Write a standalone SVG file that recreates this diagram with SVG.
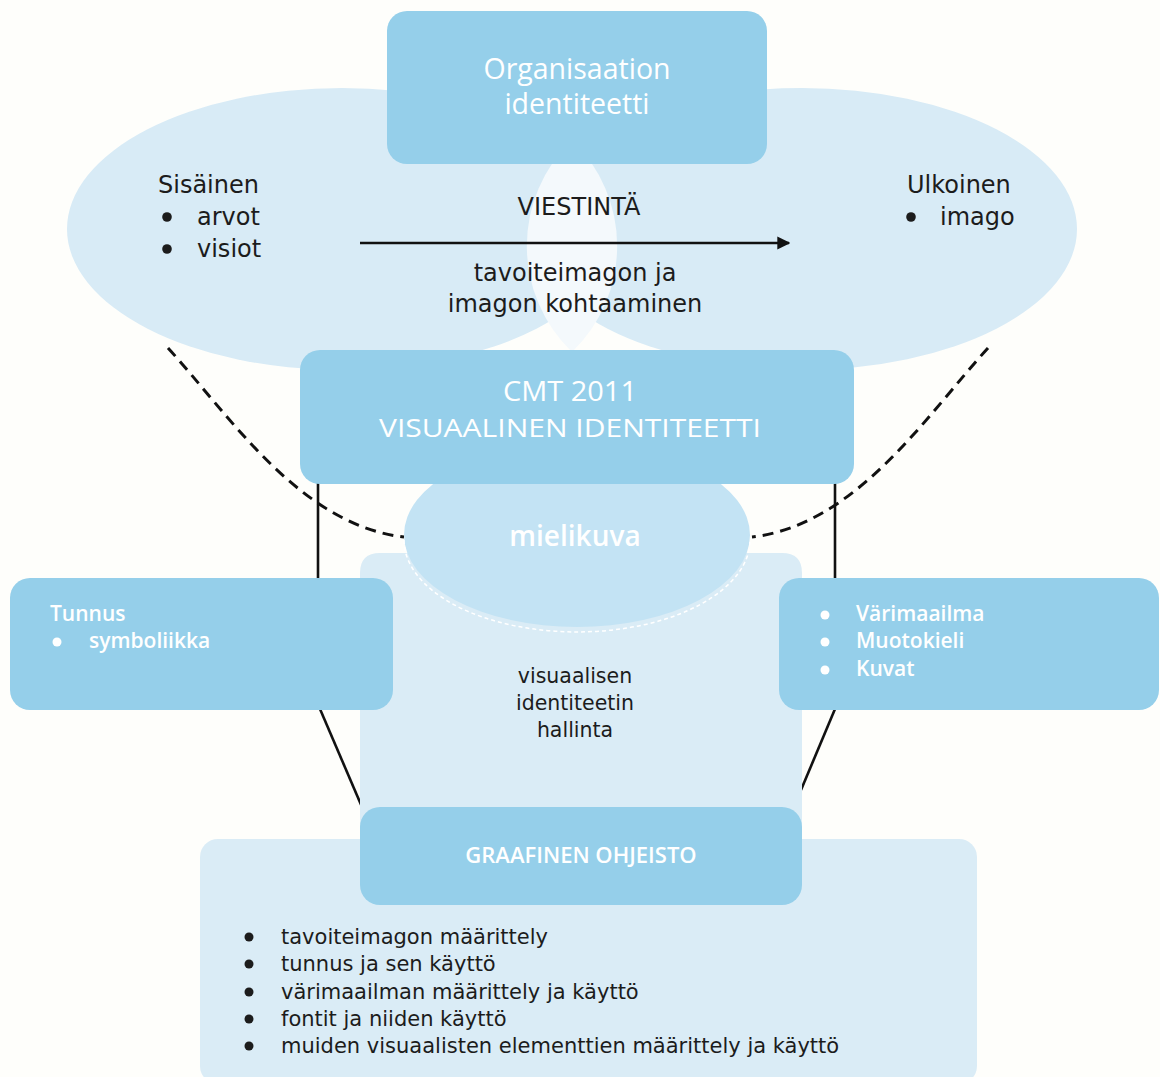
<svg xmlns="http://www.w3.org/2000/svg" width="1160" height="1077" viewBox="0 0 1160 1077">
<defs>
<style>
.box{fill:#95cfea;}
.ell{fill:#d8ebf6;}
.panel{fill:#daecf6;}
.wt{fill:#ffffff;font-family:"Open Sans","Noto Sans","DejaVu Sans",sans-serif;}
.bt{fill:#1c1c1c;font-family:"DejaVu Sans","Open Sans",sans-serif;}
.c{text-anchor:middle;}
.ln{stroke:#111;stroke-width:2.6;fill:none;}
.dash{stroke:#111;stroke-width:3;fill:none;stroke-dasharray:11 7;}
</style>
<marker id="ah" viewBox="0 0 10 10" refX="9" refY="5" markerWidth="5" markerHeight="6" markerUnits="strokeWidth" orient="auto">
<path d="M0,0 L10,5 L0,10 Z" fill="#111"/>
</marker>
</defs>
<rect x="0" y="0" width="1160" height="1077" fill="#fefefb"/>

<g id="ellipse-sisainen">
<ellipse class="ell" cx="342" cy="229" rx="275" ry="141"/>
<text class="bt" x="158" y="193" font-size="24">Sisäinen</text>
<circle cx="167" cy="217" r="4.8" fill="#1c1c1c"/>
<text class="bt" x="197" y="225" font-size="24">arvot</text>
<circle cx="167" cy="249" r="4.8" fill="#1c1c1c"/>
<text class="bt" x="197" y="257" font-size="24">visiot</text>
</g>
<g id="ellipse-ulkoinen">
<ellipse class="ell" cx="802" cy="229" rx="275" ry="141"/>
<text class="bt" x="907" y="193" font-size="24">Ulkoinen</text>
<circle cx="911" cy="217" r="4.8" fill="#1c1c1c"/>
<text class="bt" x="940" y="225" font-size="24">imago</text>
</g>
<g id="lens">
<path d="M572,140 A147,147 0 0 1 572,352 A147,147 0 0 1 572,140 Z" fill="#f4f9fc"/>
</g>

<g id="connectors">
<line class="ln" x1="360" y1="243" x2="789" y2="243" stroke-width="3" marker-end="url(#ah)"/>
<path class="dash" d="M168,348 C230,416 300,525 404,537"/>
<path class="dash" d="M988,348 C926,416 856,525 752,537"/>
<line class="ln" x1="318" y1="483" x2="318" y2="580"/>
<line class="ln" x1="835" y1="483" x2="835" y2="580"/>
<line class="ln" x1="320" y1="709" x2="362" y2="807"/>
<line class="ln" x1="835" y1="709" x2="801" y2="790"/>
</g>

<g id="viestinta">
<text class="bt c" x="579" y="215" font-size="24">VIESTINTÄ</text>
<text class="bt c" x="575" y="281" font-size="24">tavoiteimagon ja</text>
<text class="bt c" x="575" y="312" font-size="24">imagon kohtaaminen</text>
</g>

<g id="organisaation-identiteetti">
<rect class="box" x="387" y="11" width="380" height="153" rx="20"/>
<text class="wt c" x="577" y="79" font-size="28.5">Organisaation</text>
<text class="wt c" x="577" y="114" font-size="28.5">identiteetti</text>
</g>

<g id="hallinta">
<path class="panel" d="M360,573 Q360,553 380,553 L782,553 Q802,553 802,573 L802,830 L360,830 Z"/>
<text class="bt c" x="575" y="683" font-size="20.5">visuaalisen</text>
<text class="bt c" x="575" y="710" font-size="20.5">identiteetin</text>
<text class="bt c" x="575" y="737" font-size="20.5">hallinta</text>
</g>

<g id="mielikuva">
<ellipse cx="577" cy="535" rx="173" ry="92" fill="#c3e3f4"/>
<path d="M404,540 A173,92 0 0 0 750,540" fill="none" stroke="#ffffff" stroke-width="1.5" stroke-dasharray="4 3"/>
<text class="wt c" x="575" y="546" font-size="28" font-weight="600">mielikuva</text>
</g>

<g id="cmt">
<rect class="box" x="300" y="350" width="554" height="134" rx="20"/>
<text class="wt c" x="570" y="401" font-size="27" textLength="134" lengthAdjust="spacingAndGlyphs">CMT 2011</text>
<text class="wt c" x="570" y="437" font-size="26" textLength="382" lengthAdjust="spacingAndGlyphs">VISUAALINEN IDENTITEETTI</text>
</g>

<g id="tunnus">
<rect class="box" x="10" y="578" width="383" height="132" rx="20"/>
<text class="wt" x="50" y="621" font-size="21" font-weight="600">Tunnus</text>
<circle cx="57" cy="642" r="4.5" fill="#ffffff"/>
<text class="wt" x="89" y="648" font-size="21" font-weight="600">symboliikka</text>
</g>

<g id="varimaailma">
<rect class="box" x="779" y="578" width="380" height="132" rx="20"/>
<circle cx="825" cy="615" r="4.5" fill="#ffffff"/>
<text class="wt" x="856" y="621" font-size="21" font-weight="600">Värimaailma</text>
<circle cx="825" cy="642" r="4.5" fill="#ffffff"/>
<text class="wt" x="856" y="648" font-size="21" font-weight="600">Muotokieli</text>
<circle cx="825" cy="670" r="4.5" fill="#ffffff"/>
<text class="wt" x="856" y="676" font-size="21" font-weight="600">Kuvat</text>
</g>

<g id="ohjeisto-lista">
<rect class="panel" x="200" y="839" width="777" height="245" rx="18"/>
<circle cx="249" cy="937" r="4.5" fill="#1c1c1c"/>
<text class="bt" x="281" y="944" font-size="21">tavoiteimagon määrittely</text>
<circle cx="249" cy="964" r="4.5" fill="#1c1c1c"/>
<text class="bt" x="281" y="971" font-size="21">tunnus ja sen käyttö</text>
<circle cx="249" cy="992" r="4.5" fill="#1c1c1c"/>
<text class="bt" x="281" y="999" font-size="21">värimaailman määrittely ja käyttö</text>
<circle cx="249" cy="1019" r="4.5" fill="#1c1c1c"/>
<text class="bt" x="281" y="1026" font-size="21">fontit ja niiden käyttö</text>
<circle cx="249" cy="1046" r="4.5" fill="#1c1c1c"/>
<text class="bt" x="281" y="1053" font-size="21">muiden visuaalisten elementtien määrittely ja käyttö</text>
</g>

<g id="graafinen-ohjeisto">
<rect class="box" x="360" y="807" width="442" height="98" rx="20"/>
<text class="wt c" x="581" y="863" font-size="22" font-weight="600">GRAAFINEN OHJEISTO</text>
</g>
</svg>
